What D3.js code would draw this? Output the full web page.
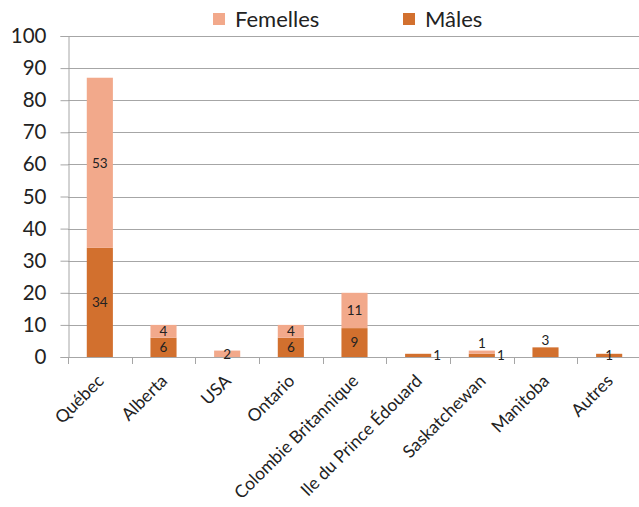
<!DOCTYPE html>
<html>
<head>
<meta charset="utf-8">
<script src="https://cdn.jsdelivr.net/npm/d3@7"></script>
<style>
  html, body { margin: 0; padding: 0; background: #fff; }
  svg { display: block; font-family: Lato, "Liberation Sans", sans-serif; }
</style>
</head>
<body>
<svg id="chart" width="639" height="507"></svg>
<script>
// Provenance of specimens, stacked by sex
const categories = ["Québec", "Alberta", "USA", "Ontario", "Colombie Britannique",
                    "Ile du Prince Édouard", "Saskatchewan", "Manitoba", "Autres"];
const males   = [34, 6, 0, 6, 9, 1, 1, 3, 1];
const females = [53, 4, 2, 4, 11, 0, 1, 0, 0];
const yTicks  = [0, 10, 20, 30, 40, 50, 60, 70, 80, 90, 100];
const seriesNames = ["Femelles", "Mâles"];

// where each value label sits relative to its segment
const maleLabelPos   = ["center", "center", "none", "center", "center", "right", "right", "above", "center"];
const femaleLabelPos = ["center", "center", "center", "center", "center", "none", "above", "none", "none"];

const colors = { "Mâles": "#D2702E", "Femelles": "#F2A98B" };

const svg = d3.select("#chart");
const W = 639, H = 507;
const plotLeft = 68, plotRight = 641, plotTop = 36, plotBottom = 357;

const x = d3.scaleBand().domain(categories).range([plotLeft, plotRight]).paddingInner(0.59).paddingOuter(0.295);
const xEdge = d3.scaleBand().domain(categories).range([plotLeft, plotRight]).padding(0);
const y = d3.scaleLinear().domain([0, 100]).range([plotBottom, plotTop]);

// gridlines
svg.append("g")
  .selectAll("line").data(yTicks.filter(d => d > 0)).join("line")
  .attr("x1", plotLeft).attr("x2", W)
  .attr("y1", d => Math.round(y(d)) + 0.5).attr("y2", d => Math.round(y(d)) + 0.5)
  .attr("stroke", "#a6a6a6").attr("stroke-width", 1);

// y axis
const yAxis = svg.append("g").attr("transform", `translate(${plotLeft + 0.5},0)`)
  .call(d3.axisLeft(y).tickValues(yTicks).tickSize(8).tickPadding(14));
yAxis.select(".domain").attr("stroke", "#a6a6a6");
yAxis.selectAll(".tick line").attr("stroke", "#a6a6a6");
yAxis.selectAll("text").attr("font-size", 20.5).attr("fill", "#222").attr("font-family", "Lato, sans-serif");

// stacked bars
const rows = categories.map((c, i) => ({ cat: c, "Mâles": males[i], "Femelles": females[i] }));
const stack = d3.stack().keys(["Mâles", "Femelles"])(rows);

svg.append("g").selectAll("g").data(stack).join("g")
  .attr("fill", d => colors[d.key])
  .selectAll("rect").data(d => d).join("rect")
  .attr("x", d => x(d.data.cat))
  .attr("width", x.bandwidth())
  .attr("y", d => y(d[1]))
  .attr("height", d => y(d[0]) - y(d[1]));

// x axis
const xAxis = svg.append("g").attr("transform", `translate(0,${plotBottom})`);
xAxis.append("line").attr("x1", plotLeft).attr("x2", W).attr("y1", 0.5).attr("y2", 0.5)
  .attr("stroke", "#a6a6a6");
xAxis.selectAll("line.tk").data(categories).join("line").attr("class", "tk")
  .attr("x1", d => Math.round(xEdge(d)) + 0.5).attr("x2", d => Math.round(xEdge(d)) + 0.5)
  .attr("y1", 0).attr("y2", 7).attr("stroke", "#a6a6a6");
xAxis.selectAll("text").data(categories).join("text")
  .attr("text-anchor", "end")
  .attr("font-size", 17.5).attr("fill", "#222")
  .attr("transform", d => `translate(${x(d) + x.bandwidth() / 2 + 5},${25}) rotate(-45)`)
  .text(d => d);

// value labels
const labels = svg.append("g").attr("font-size", 13.5).attr("fill", "#222").attr("text-anchor", "middle");
stack.forEach(layer => {
  const pos = layer.key === "Mâles" ? maleLabelPos : femaleLabelPos;
  layer.forEach((d, i) => {
    const p = pos[i];
    if (p === "none") return;
    const v = d[1] - d[0];
    const cx = x(d.data.cat) + x.bandwidth() / 2;
    let tx = cx, ty = (y(d[0]) + y(d[1])) / 2;
    if (p === "right") { tx = cx + 19; ty = y(d[0]) - 2; }
    if (p === "above") { ty = y(d[1]) - 7; }
    labels.append("text").attr("x", tx).attr("y", ty).attr("dy", "0.35em").text(v);
  });
});

// legend
const legend = svg.append("g").attr("font-size", 22).attr("fill", "#222");
const legendX = [213, 403];
seriesNames.forEach((name, i) => {
  legend.append("rect").attr("x", legendX[i]).attr("y", 13).attr("width", 12).attr("height", 12)
    .attr("fill", colors[name]);
  legend.append("text").attr("x", legendX[i] + 22).attr("y", 26.5).text(name);
});
</script>
</body>
</html>
